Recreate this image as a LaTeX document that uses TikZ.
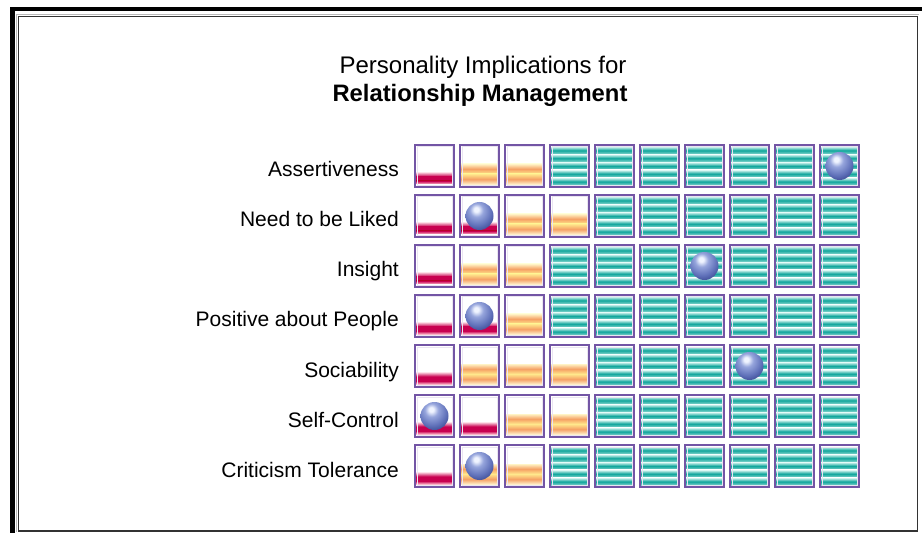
\documentclass[tikz,border=0pt]{standalone}
\usepackage{fontspec}
\setmainfont{Liberation Sans}
\definecolor{boxpurple}{RGB}{115,85,165}
\definecolor{crimson}{RGB}{200,0,80}
\definecolor{pinklight}{RGB}{250,180,200}
\definecolor{oryellow}{RGB}{255,232,140}
\definecolor{ororange}{RGB}{245,160,100}
\definecolor{tealdark}{RGB}{15,165,155}
\definecolor{teallight}{RGB}{225,250,246}
\definecolor{ballhi}{RGB}{240,244,255}
\definecolor{ballmid}{RGB}{150,165,220}
\definecolor{ballbody}{RGB}{95,112,185}
\definecolor{balldark}{RGB}{45,58,130}
\definecolor{ballrim}{RGB}{28,36,95}
\pgfdeclareradialshading{myball}{\pgfqpoint{-6bp}{12bp}}{%
  color(0bp)=(ballhi); color(4bp)=(ballhi); color(12bp)=(ballmid); color(26bp)=(ballbody);
  color(40bp)=(balldark); color(52bp)=(ballrim); color(100bp)=(ballrim)}
\tikzset{
  cellbox/.style={draw=boxpurple, line width=1.6bp, minimum width=39bp, minimum height=42bp, inner sep=0pt},
  rowlabel/.style={anchor=base east, inner sep=0pt, font=\fontsize{21bp}{25bp}\selectfont},
  ballmark/.style={shading=myball},
}
\begin{document}
\begin{tikzpicture}[x=1bp,y=-1bp]
\useasboundingbox (0,0) rectangle (922,533);
% frame
\fill[black] (10,7) rectangle (922,11.5);
\fill[black] (10,7) rectangle (14.5,533);
\draw[gray!55, line width=1bp] (16.5,14.5) -- (16.5,532) (16.5,14.5) -- (919,14.5);
\draw[black!80, line width=1.3bp] (18.2,16.2) rectangle (917.5,531);
% title
\node[font=\fontsize{24bp}{28bp}\selectfont, anchor=base, inner sep=0pt] (t1) at (483,74) {Personality Implications for};
\node[font=\fontsize{23.8bp}{28bp}\selectfont\bfseries, anchor=base, inner sep=0pt] (t2) at (480,102) {Relationship Management};
% rows: label / number of red cells / last orange col / ball column
\foreach \lab/\nr/\no/\ball [count=\j] in {
  Assertiveness/1/3/10,
  Need to be Liked/2/4/2,
  Insight/1/3/7,
  Positive about People/2/3/2,
  Sociability/1/4/8,
  Self-Control/2/4/1,
  Criticism Tolerance/1/3/2}{
  \pgfmathsetmacro{\cy}{166+50*(\j-1)}
  \node[rowlabel] (l\j) at (399,\cy+11) {\lab};
  \foreach \i in {1,...,10}{
    \pgfmathsetmacro{\cx}{434.5+45*(\i-1)}
    \fill[white] (\cx-19.5,\cy-21) rectangle (\cx+19.5,\cy+21);
    \ifnum\i>\nr
      \ifnum\i>\no
        % teal cell
        \foreach \k in {0,...,4}{
          \shade[top color=teallight, bottom color=teallight!60!tealdark, middle color=tealdark]
            (\cx-19.5,\cy-19.5+7.8*\k) rectangle (\cx+19.5,\cy-19.5+7.8*\k+7.8);
        }
      \else
        % orange cell
        \shade[top color=oryellow!50, bottom color=oryellow, middle color=ororange] (\cx-19.5,\cy-2) rectangle (\cx+19.5,\cy+8);
        \shade[top color=oryellow, bottom color=oryellow!40, middle color=ororange] (\cx-19.5,\cy+8) rectangle (\cx+19.5,\cy+18.5);
      \fi
    \else
      % red cell
      \shade[top color=pinklight!40, bottom color=crimson] (\cx-19.5,\cy+6) rectangle (\cx+19.5,\cy+10.5);
      \fill[crimson] (\cx-19.5,\cy+10.5) rectangle (\cx+19.5,\cy+15);
      \shade[top color=crimson, bottom color=pinklight] (\cx-19.5,\cy+15) rectangle (\cx+19.5,\cy+18);
    \fi
    \draw[white!85!boxpurple, line width=0.8bp] (\cx-17.6,\cy-19.1) rectangle (\cx+17.6,\cy+19.1);
    \node[cellbox] (c\j-\i) at (\cx,\cy) {};
    \ifnum\i=\ball
      \shade[ballmark] (c\j-\i.center) circle (14bp);
    \fi
  }
}
\end{tikzpicture}
\end{document}
